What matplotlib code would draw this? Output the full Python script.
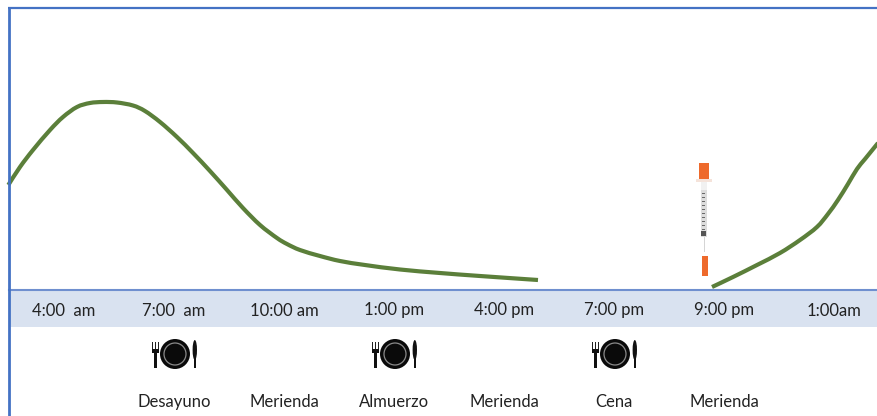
import numpy as np
import matplotlib
matplotlib.use("Agg")
import matplotlib.pyplot as plt
from matplotlib.patches import Rectangle, Ellipse, PathPatch
from matplotlib.path import Path

time_labels = ["4:00  am", "7:00  am", "10:00 am", "1:00 pm", "4:00 pm", "7:00 pm", "9:00 pm", "1:00am"]
meal_labels = ["Desayuno", "Merienda", "Almuerzo", "Merienda", "Cena", "Merienda"]
meal_slots = [1, 2, 3, 4, 5, 6]
plate_slots = [1, 3, 5]

# slot position (one slot = one tick interval), level above the time band
curve1_x = [-0.506, -0.40, -0.282, -0.127, -0.009, 0.118, 0.236, 0.355, 0.482, 0.627, 0.736, 0.873, 1.027, 1.173,
            1.327, 1.482, 1.627, 1.782, 1.936, 2.027, 2.145, 2.327, 2.509, 2.736, 3.055, 3.418, 3.782, 4.309]
curve1_y = [104, 122, 139, 159, 172, 182, 186, 187, 186.5, 183.5, 178, 167, 152, 136,
            118, 99, 81, 64, 51, 45, 39, 33, 28, 24, 19.5, 16, 13, 9]
curve2_x = [5.891, 6.082, 6.30, 6.509, 6.691, 6.845, 6.945, 7.036, 7.127, 7.209, 7.282, 7.40]
curve2_y = [2, 12, 24, 36, 49, 62, 75, 89, 105, 120, 130, 146]

W, H = 878, 416
fig = plt.figure(figsize=(W/100, H/100), dpi=100, facecolor="white")
ax = fig.add_axes([0, 0, 1, 1])
# x: 110 px per slot with slot 0 at px 64; y: 1 px per unit with 0 at px 289
ax.set_xlim(-64/110, (W-64)/110)
ax.set_ylim(289-H, 289)
ax.axis("off")

def px(x): return (x-64)/110
def py(y): return 289-y

BLUE = "#4472C4"
ax.add_patch(Rectangle((px(9), py(327)), 8.0, 37, fc="#D9E2F0", ec="none", zorder=1))
ax.plot([px(9), px(878)], [py(289.5)]*2, color="#6F8FCF", lw=1.5, zorder=2)
ax.plot([px(9), px(9)], [py(8), py(416)], color=BLUE, lw=2, zorder=5, solid_capstyle="butt")
ax.plot([px(8), px(878)], [py(8), py(8)], color=BLUE, lw=1.6, zorder=5, solid_capstyle="butt")

GREEN = "#5B7F3A"
def smooth_path(xs, ys):
    """Cubic segments passing through every read point."""
    p = np.column_stack([xs, ys]).astype(float)
    q = np.vstack([p[0], p, p[-1]])
    verts = [p[0]]
    codes = [Path.MOVETO]
    for i in range(1, len(q)-2):
        verts += [q[i] + (q[i+1]-q[i-1])/6, q[i+1] - (q[i+2]-q[i])/6, q[i+1]]
        codes += [Path.CURVE4]*3
    return Path(verts, codes)

for cx, cy in [(curve1_x, curve1_y), (curve2_x, curve2_y)]:
    ax.add_patch(PathPatch(smooth_path(cx, cy), fc="none", ec=GREEN, lw=3.0, capstyle="butt", joinstyle="round", zorder=3))

FONT = ["Lato", "DejaVu Sans"]
for i, t in enumerate(time_labels):
    ax.text(i, py(310.5), t, ha="center", va="center", fontsize=12, color="#222222", family=FONT, zorder=6)
for s, t in zip(meal_slots, meal_labels):
    ax.text(s, py(402), t, ha="center", va="center", fontsize=12, color="#222222", family=FONT, zorder=6)

def box(x0, y0, x1, y1, color, z=6):
    ax.add_patch(Rectangle((px(x0), py(y1)), (x1-x0)/110, y1-y0, fc=color, ec="none", zorder=z))

def ell(cx, cy, w, h, fc, ec="none", lw=0):
    ax.add_patch(Ellipse((px(cx), py(cy)), w/110, h, fc=fc, ec=ec, lw=lw, zorder=7))

for s in plate_slots:
    c = 64 + 110*s
    cy = 354
    # plate
    ell(c+1, cy, 30, 30, "#0a0a0a")
    ell(c+1, cy, 22, 22, "#0a0a0a", ec="#8a8a8a", lw=0.9)
    # fork
    box(c-20, cy-2, c-17, cy+14, "#111111")
    for dx in (-22, -19.2, -16.4):
        box(c+dx, cy-12, c+dx+1.4, cy-3, "#222222")
    box(c-22, cy-5, c-15, cy-1, "#111111")
    # knife
    box(c+20.5, cy, c+22.5, cy+14, "#111111")
    ell(c+20.8, cy-4, 4.4, 20, "#111111")

# syringe
S = 704.5
box(S-5.5, 163, S+4.5, 179, "#EE6A2C")
box(S-8, 179, S+8, 182, "#F5E3DA")
box(S-3, 182, S+3, 190, "#F1F1F1")
box(S-3, 190, S+3, 237, "#DDDDDD")
for yy in range(193, 234, 4):
    box(S-2.5, yy, S+1, yy+1.3, "#6A6A6A", z=7)
box(S-3, 231, S+2, 236, "#555555", z=7)
box(S-0.7, 237, S+0.7, 252, "#D5D5D5")
box(S-2.5, 256, S+3.5, 276, "#EE6A2C")

fig.savefig("out.png", dpi=100, facecolor="white")
